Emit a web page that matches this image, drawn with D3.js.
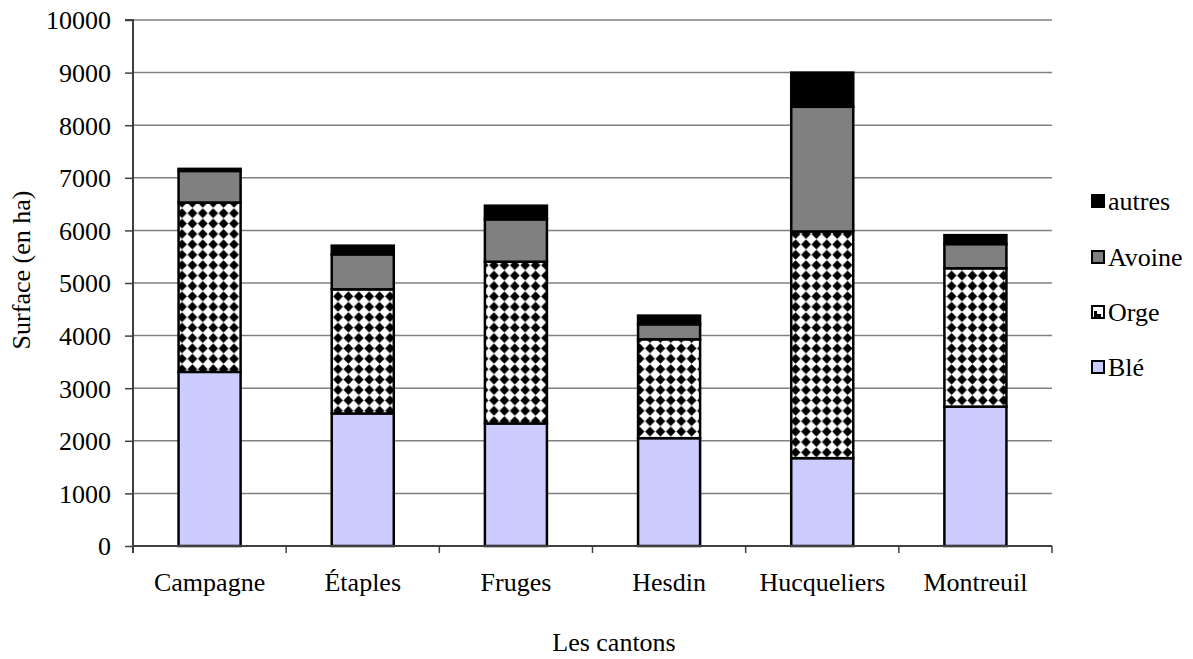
<!DOCTYPE html>
<html><head><meta charset="utf-8">
<script src="https://cdn.jsdelivr.net/npm/d3@7"></script>
<style>body{margin:0;background:#fff}svg{display:block}svg text{font-family:"Liberation Serif","Times New Roman",serif !important;fill:#000}</style>
</head><body>
<script>
const categories = ["Campagne","Étaples","Fruges","Hesdin","Hucqueliers","Montreuil"];
const seriesNames = ["Blé","Orge","Avoine","autres"];
const ble    = [3310, 2520, 2330, 2050, 1670, 2650];
const orge   = [3220, 2360, 3075, 1880, 4310, 2630];
const avoine = [600, 665, 805, 285, 2370, 460];
const autres = [40, 165, 260, 165, 650, 170];
const yTicks = [0,1000,2000,3000,4000,5000,6000,7000,8000,9000,10000];

const W = 1193, H = 659;
const m = {left:133, right:1193-1052, top:20, bottom:659-546};
const FS = 26;
const svg = d3.select("body").append("svg").attr("width",W).attr("height",H);
const defs = svg.append("defs");
const pat = defs.append("pattern").attr("id","diam").attr("patternUnits","userSpaceOnUse")
  .attr("width",10.4).attr("height",10.4);
pat.append("rect").attr("width",10.4).attr("height",10.4).attr("fill","#fff");
pat.append("path").attr("d","M5.2,0.3 L10.1,5.2 L5.2,10.1 L0.3,5.2 Z").attr("fill","#000");

const fills = {"Blé":"#CCCCFF","Orge":"url(#diam)","Avoine":"#808080","autres":"#000000"};

const x = d3.scaleBand().domain(categories).range([m.left, W-m.right]).paddingInner(0.595).paddingOuter(0.2975);
const x0 = d3.scaleBand().domain(categories).range([m.left, W-m.right]);
const y = d3.scaleLinear().domain([0,10000]).range([H-m.bottom, m.top]);

// gridlines
svg.append("g").selectAll("line").data(yTicks.filter(d=>d>0)).join("line")
  .attr("x1",m.left).attr("x2",W-m.right).attr("y1",d=>y(d)).attr("y2",d=>y(d))
  .attr("stroke","#808080").attr("stroke-width",1.5);

const table = categories.map((c,i)=>({cat:c,"Blé":ble[i],"Orge":orge[i],"Avoine":avoine[i],"autres":autres[i]}));
const stacked = d3.stack().keys(seriesNames)(table);

svg.append("g").selectAll("g").data(stacked).join("g")
  .attr("fill",d=>fills[d.key])
  .selectAll("rect").data(d=>d).join("rect")
  .attr("x",d=>x(d.data.cat)).attr("width",x.bandwidth())
  .attr("y",d=>y(d[1])).attr("height",d=>y(d[0])-y(d[1]))
  .attr("stroke","#000").attr("stroke-width",2.5);

// y axis
const ya = svg.append("g").attr("transform",`translate(${m.left},0)`)
  .call(d3.axisLeft(y).tickValues(yTicks).tickSize(8).tickPadding(14).tickFormat(d3.format("d")));
ya.attr("font-family",null);
ya.select(".domain").attr("stroke","#404040").attr("stroke-width",2).attr("d",`M-8,${y(10000)}H0V${y(0)+7}`);
ya.selectAll(".tick line").attr("stroke","#404040").attr("stroke-width",1.5);
ya.selectAll(".tick text").attr("font-size",FS).attr("fill","#000").attr("dy","0.34em");

// x axis
const xa = svg.append("g").attr("transform",`translate(0,${y(0)})`);
xa.append("line").attr("x1",m.left).attr("x2",W-m.right).attr("y1",0).attr("y2",0)
  .attr("stroke","#404040").attr("stroke-width",2);
const bounds = categories.map(c=>x0(c)).concat([W-m.right]);
xa.selectAll("line.t").data(bounds).join("line").attr("class","t")
  .attr("x1",d=>d).attr("x2",d=>d).attr("y1",0).attr("y2",7)
  .attr("stroke","#404040").attr("stroke-width",1.5);
xa.selectAll("text").data(categories).join("text")
  .attr("x",d=>x0(d)+x0.bandwidth()/2).attr("y",45)
  .attr("text-anchor","middle").attr("font-size",FS).text(d=>d);

// axis titles
svg.append("text").attr("transform","translate(30,270) rotate(-90)").attr("text-anchor","middle")
  .attr("font-size",FS).text("Surface (en ha)");
svg.append("text").attr("x",614).attr("y",651).attr("text-anchor","middle")
  .attr("font-size",FS).text("Les cantons");

// legend
const leg = svg.append("g");
const legItems = ["autres","Avoine","Orge","Blé"];
const ly = [202, 258, 313, 368];
legItems.forEach((k,i)=>{
  leg.append("rect").attr("x",1092).attr("y",ly[i]-7).attr("width",12).attr("height",12)
    .attr("fill",k==="Orge"?"#fff":fills[k]).attr("stroke","#000").attr("stroke-width",2);
  if(k==="Orge"){
    leg.append("path").attr("d",`M1094,${ly[i]+4}V${ly[i]-2}h3v3h4v4z`).attr("fill","#000");
  }
  leg.append("text").attr("x",1108).attr("y",ly[i]+8).attr("font-size",FS).text(k);
});
</script>
</body></html>
